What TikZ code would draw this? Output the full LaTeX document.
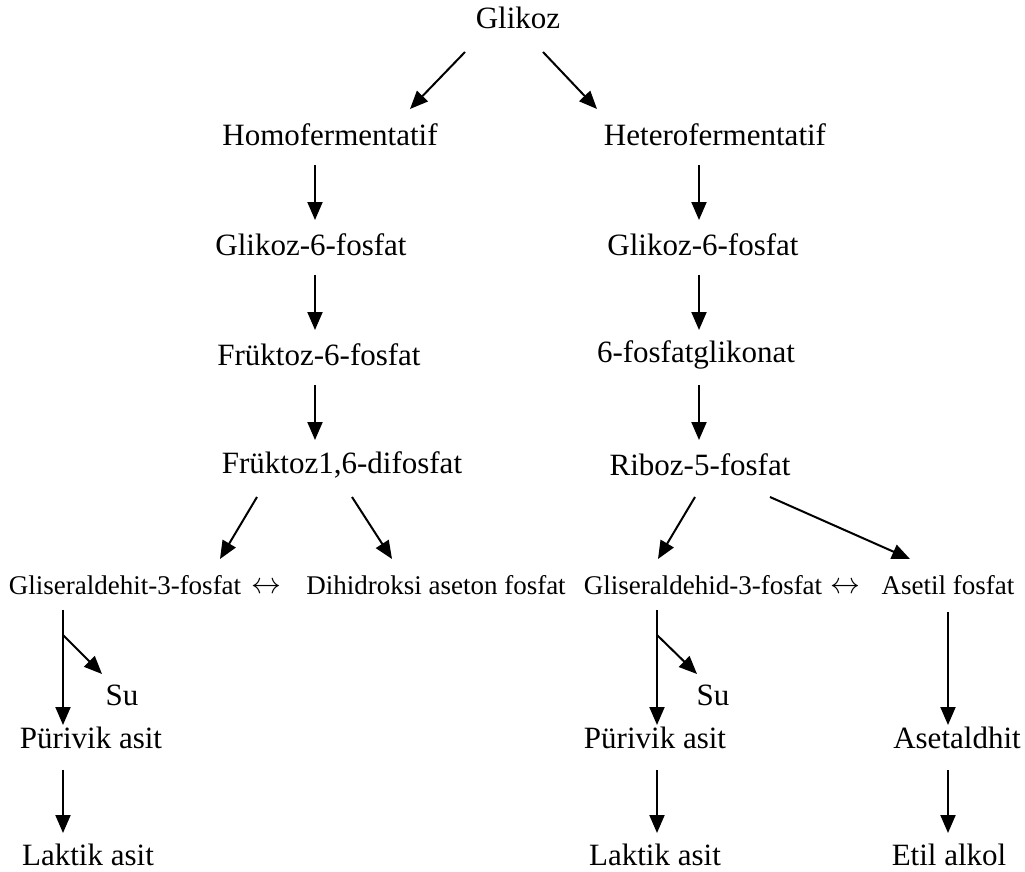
\documentclass[tikz,border=0pt]{standalone}
\usepackage{fontspec}
\setmainfont{Liberation Serif}
\usetikzlibrary{arrows.meta,calc}
\tikzset{
  lbl/.style={inner sep=0pt, font=\fontsize{31}{37}\selectfont},
  sml/.style={inner sep=0pt, font=\fontsize{27}{32}\selectfont},
  arr/.style={line width=2pt, -{Triangle[length=18pt,width=15pt]}},
}
\begin{document}
\begin{tikzpicture}[x=1pt,y=-1pt]
\useasboundingbox (0,0) rectangle (1025,872);
% top
\node[lbl] (glikoz) at (518,18) {Glikoz};
\node[lbl] (homo) at (330,135) {Homofermentatif};
\node[lbl] (hetero) at (715,135) {Heterofermentatif};
% left column
\node[lbl] (g6pL) at (311,245) {Glikoz-6-fosfat};
\node[lbl] (f6p) at (319,355) {Früktoz-6-fosfat};
\node[lbl] (fdp) at (342,465) {Früktoz1,6-difosfat};
% right column
\node[lbl] (g6pR) at (703,245) {Glikoz-6-fosfat};
\node[lbl] (pg) at (696,355) {6-fosfatglikonat};
\node[lbl] (riboz) at (700,465) {Riboz-5-fosfat};
% small row
\node[sml] (gl1) at (125,585) {Gliseraldehit-3-fosfat};
\node[sml] (lr1) at (266,588) {\scalebox{1.2}{$\leftrightarrow$}};
\node[sml] (dihid) at (436,585) {Dihidroksi aseton fosfat};
\node[sml] (gl2) at (703,585) {Gliseraldehid-3-fosfat};
\node[sml] (lr2) at (845,588) {\scalebox{1.2}{$\leftrightarrow$}};
\node[sml] (asetil) at (948,585) {Asetil fosfat};
% bottom
\node[lbl] (su1) at (122,695) {Su};
\node[lbl] (su2) at (713,695) {Su};
\node[lbl] (pur1) at (91,738) {Pürivik asit};
\node[lbl] (pur2) at (655,738) {Pürivik asit};
\node[lbl] (aset) at (957,738) {Asetaldhit};
\node[lbl] (lak1) at (88,855) {Laktik asit};
\node[lbl] (lak2) at (655,855) {Laktik asit};
\node[lbl] (etil) at (949,855) {Etil alkol};
% branch points
\coordinate (b1) at (63,635);
\coordinate (b2) at (657,635);
% arrows top
\draw[arr] ($(glikoz)+(-53,34)$) -- ($(homo)+(80,-26)$);
\draw[arr] ($(glikoz)+(25,34)$) -- ($(hetero)+(-118,-26)$);
% left column
\draw[arr] ($(homo)+(-15,30)$) -- ($(g6pL)+(4,-25)$);
\draw[arr] ($(g6pL)+(4,30)$) -- ($(f6p)+(-4,-25)$);
\draw[arr] ($(f6p)+(-4,30)$) -- ($(fdp)+(-27,-25)$);
% right column
\draw[arr] ($(hetero)+(-16,30)$) -- ($(g6pR)+(-4,-25)$);
\draw[arr] ($(g6pR)+(-4,30)$) -- ($(pg)+(3,-25)$);
\draw[arr] ($(pg)+(3,30)$) -- ($(riboz)+(-1,-25)$);
% splits
\draw[arr] ($(fdp)+(-85,32)$) -- ($(gl1)+(95,-26)$);
\draw[arr] ($(fdp)+(10,32)$) -- ($(dihid)+(-44,-26)$);
\draw[arr] ($(riboz)+(-5,32)$) -- ($(gl2)+(-45,-26)$);
\draw[arr] ($(riboz)+(70,32)$) -- ($(asetil)+(-38,-26)$);
% left bottom
\draw[arr] ($(gl1)+(-62,25)$) -- ($(pur1)+(-28,-13)$);
\draw[arr] (b1) -- ($(su1)+(-20,-21)$);
\draw[arr] ($(pur1)+(-28,32)$) -- ($(lak1)+(-25,-22)$);
% right bottom
\draw[arr] ($(gl2)+(-46,25)$) -- ($(pur2)+(2,-13)$);
\draw[arr] (b2) -- ($(su2)+(-16,-21)$);
\draw[arr] ($(pur2)+(2,32)$) -- ($(lak2)+(2,-22)$);
\draw[arr] ($(asetil)+(0,27)$) -- ($(aset)+(-9,-13)$);
\draw[arr] ($(aset)+(-9,32)$) -- ($(etil)+(-1,-22)$);
\end{tikzpicture}
\end{document}
